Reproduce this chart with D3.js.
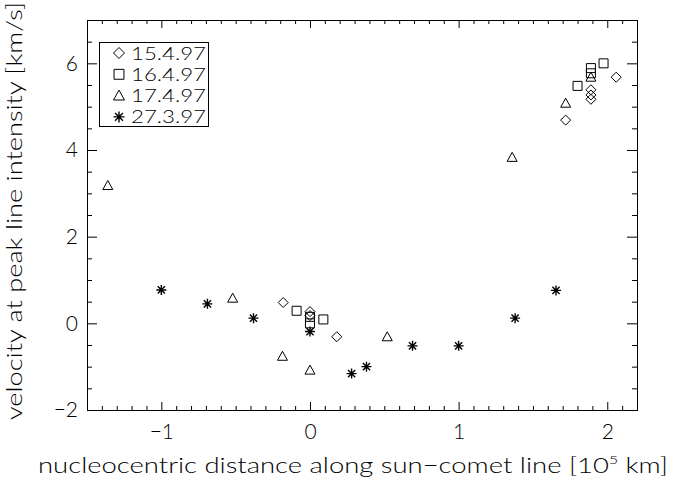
<!DOCTYPE html>
<html>
<head>
<meta charset="utf-8">
<script src="https://cdn.jsdelivr.net/npm/d3@7"></script>
<style>
  html, body { margin: 0; padding: 0; background: #fff; }
  svg { display: block; }
  text { font-family: "Lato", "Liberation Sans", sans-serif; font-weight: 300; fill: #000; }
</style>
</head>
<body>
<svg id="chart" width="673" height="481"></svg>
<script>
// Peak-velocity measurements per observing date: [distance (1e5 km), velocity (km/s)]
const obs150497 = [[-0.18, 0.48], [0, 0.27], [0, 0.18], [0.18, -0.31],
                   [1.72, 4.69], [1.89, 5.39], [1.89, 5.27], [1.89, 5.17], [2.06, 5.68]];
const obs160497 = [[-0.09, 0.29], [0, 0.15], [0, 0.0], [0.09, 0.09],
                   [1.80, 5.48], [1.89, 5.89], [1.89, 5.77], [1.975, 6.0]];
const obs170497 = [[-1.36, 3.18], [-0.52, 0.58], [-0.185, -0.76], [0, -1.08],
                   [0.52, -0.31], [1.36, 3.83], [1.72, 5.08], [1.89, 5.68]];
const obs270397 = [[-1.0, 0.77], [-0.69, 0.45], [-0.38, 0.12], [0, -0.19], [0.28, -1.16],
                   [0.38, -1.0], [0.69, -0.52], [1.0, -0.52], [1.38, 0.12], [1.655, 0.76]];

const seriesLabels = ["15.4.97", "16.4.97", "17.4.97", "27.3.97"];
const seriesSymbols = ["diamond", "square", "triangle", "asterisk"];
const seriesData = [obs150497, obs160497, obs170497, obs270397];

const xMajorTicks = [-1, 0, 1, 2];
const yMajorTicks = [-2, 0, 2, 4, 6];
const xDomain = [-1.5, 2.2];
const yDomain = [-2, 7];

const xTitle = "nucleocentric distance along sun\u2212comet line ";
const yTitle = "velocity at peak line intensity [km/s]";

const svg = d3.select("#chart");
const plotL = 87, plotR = 637, plotT = 20, plotB = 410;

const x = d3.scaleLinear().domain(xDomain).range([plotL, plotR]);
const y = d3.scaleLinear().domain(yDomain).range([plotB, plotT]);

const xMinor = d3.range(-14, 22).map(i => i / 10).filter(v => !xMajorTicks.some(m => Math.abs(m - v) < 1e-9));
const yMinor = d3.range(-3, 14).map(i => i / 2).filter(v => !yMajorTicks.includes(v));

const fmt = v => (v < 0 ? "\u2212" + Math.abs(v) : String(v));

function styleAxis(g) {
  g.select(".domain").remove();
  g.selectAll("line").attr("stroke", "#000").attr("stroke-width", 1);
  g.selectAll("text").attr("font-size", 21).attr("fill", "#000")
    .attr("font-family", "Lato, 'Liberation Sans', sans-serif").attr("font-weight", 300);
}

// bottom & top axes (inward ticks)
svg.append("g").attr("transform", `translate(0,${plotB})`)
  .call(d3.axisBottom(x).tickValues(xMajorTicks).tickSize(-8).tickPadding(14).tickFormat(fmt))
  .call(styleAxis);
svg.append("g").attr("transform", `translate(0,${plotB})`)
  .call(d3.axisBottom(x).tickValues(xMinor).tickSize(-4).tickFormat(""))
  .call(styleAxis);
svg.append("g").attr("transform", `translate(0,${plotT})`)
  .call(d3.axisTop(x).tickValues(xMajorTicks).tickSize(-8).tickFormat(""))
  .call(styleAxis);
svg.append("g").attr("transform", `translate(0,${plotT})`)
  .call(d3.axisTop(x).tickValues(xMinor).tickSize(-4).tickFormat(""))
  .call(styleAxis);

// left & right axes
svg.append("g").attr("transform", `translate(${plotL},0)`)
  .call(d3.axisLeft(y).tickValues(yMajorTicks).tickSize(-10).tickPadding(9).tickFormat(fmt))
  .call(styleAxis);
svg.append("g").attr("transform", `translate(${plotL},0)`)
  .call(d3.axisLeft(y).tickValues(yMinor).tickSize(-5).tickFormat(""))
  .call(styleAxis);
svg.append("g").attr("transform", `translate(${plotR},0)`)
  .call(d3.axisRight(y).tickValues(yMajorTicks).tickSize(-10).tickFormat(""))
  .call(styleAxis);
svg.append("g").attr("transform", `translate(${plotR},0)`)
  .call(d3.axisRight(y).tickValues(yMinor).tickSize(-5).tickFormat(""))
  .call(styleAxis);

// plot frame
svg.append("rect")
  .attr("x", plotL + 0.5).attr("y", plotT + 0.5)
  .attr("width", plotR - plotL).attr("height", plotB - plotT)
  .attr("fill", "none").attr("stroke", "#000").attr("stroke-width", 1);

// symbol paths centred on (0,0)
function symbolPath(kind, s) {
  const p = d3.path();
  if (kind === "diamond") {
    p.moveTo(0, -s); p.lineTo(s, 0); p.lineTo(0, s); p.lineTo(-s, 0); p.closePath();
  } else if (kind === "square") {
    const h = s * 0.9;
    p.rect(-h, -h, 2 * h, 2 * h);
  } else if (kind === "triangle") {
    p.moveTo(0, -s); p.lineTo(s, s * 0.8); p.lineTo(-s, s * 0.8); p.closePath();
  } else {
    const d = s * 0.72;
    p.moveTo(-s, 0); p.lineTo(s, 0);
    p.moveTo(0, -s); p.lineTo(0, s);
    p.moveTo(-d, -d); p.lineTo(d, d);
    p.moveTo(-d, d); p.lineTo(d, -d);
  }
  return p.toString();
}

const markers = svg.append("g");
seriesData.forEach((data, i) => {
  markers.selectAll(null)
    .data(data)
    .join("path")
    .attr("transform", d => `translate(${x(d[0])},${y(d[1])})`)
    .attr("d", symbolPath(seriesSymbols[i], 5))
    .attr("fill", "none")
    .attr("stroke", "#000")
    .attr("stroke-width", seriesSymbols[i] === "asterisk" ? 1.4 : 1);
});

// legend
const lg = svg.append("g");
lg.append("rect").attr("x", 99.5).attr("y", 42.5).attr("width", 109).attr("height", 84)
  .attr("fill", "#fff").attr("stroke", "#000");
seriesLabels.forEach((lab, i) => {
  const cy = 53 + i * 21.3;
  lg.append("path")
    .attr("transform", `translate(119,${cy})`)
    .attr("d", symbolPath(seriesSymbols[i], 5.5))
    .attr("fill", "none").attr("stroke", "#000")
    .attr("stroke-width", seriesSymbols[i] === "asterisk" ? 1.4 : 1);
  lg.append("text").attr("x", 131).attr("y", cy + 6.5)
    .attr("font-size", 17.5).attr("textLength", 75).attr("lengthAdjust", "spacingAndGlyphs")
    .text(lab);
});

// axis titles
const xt = svg.append("text")
  .attr("x", 38).attr("y", 473)
  .attr("font-size", 21)
  .attr("textLength", 630).attr("lengthAdjust", "spacingAndGlyphs");
xt.append("tspan").text(xTitle + "[10");
xt.append("tspan").attr("font-size", 12).attr("dy", -9).text("5");
xt.append("tspan").attr("dy", 9).text(" km]");

svg.append("text")
  .attr("transform", "translate(22,211) rotate(-90)")
  .attr("text-anchor", "middle")
  .attr("font-size", 21)
  .attr("textLength", 418).attr("lengthAdjust", "spacingAndGlyphs")
  .text(yTitle);
</script>
</body>
</html>
